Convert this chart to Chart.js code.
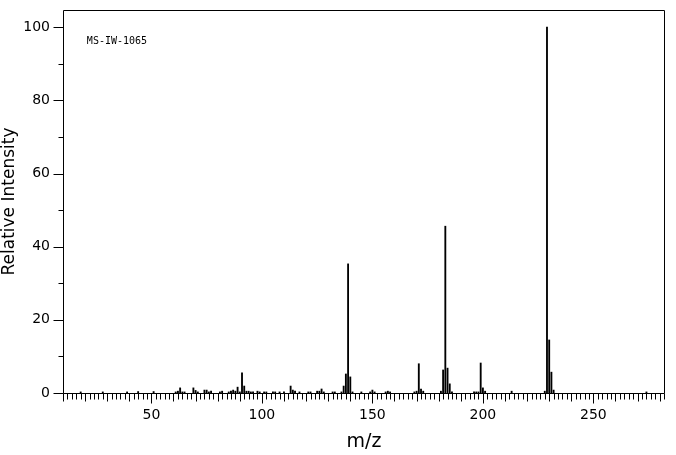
<!DOCTYPE html>
<html>
<head>
<meta charset="utf-8">
<script src="https://cdn.jsdelivr.net/npm/chart.js@4/dist/chart.umd.min.js"></script>
<style>
html,body{margin:0;padding:0;background:#fff;}
canvas{display:block;}
</style>
</head>
<body>
<canvas id="c" width="676" height="455"></canvas>
<script>
// m/z values of the peaks
const mzValues = [18, 28, 39, 44, 51,
  61, 62, 63, 64, 65, 69, 70, 71, 74, 75, 76, 77, 81, 82, 85, 86, 87, 88, 89, 90, 91, 92, 93, 94, 95, 96, 98, 99,
  101, 102, 105, 106, 108, 110, 113, 114, 115, 117, 121, 122, 125, 126, 127, 128, 132, 133, 136, 137, 138, 139, 140, 141, 145, 149,
  150, 151, 156, 157, 158, 169, 170, 171, 172, 173, 181, 182, 183, 184, 185, 186, 196, 197, 198, 199,
  200, 201, 213, 228, 229, 230, 231, 232, 274];
// relative intensities (%)
const intensities = [0.3, 0.3, 0.3, 0.4, 0.4,
  0.3, 0.5, 1.4, 0.3, 0.3, 1.4, 0.7, 0.3, 0.8, 0.8, 0.3, 0.5, 0.3, 0.5, 0.3, 0.5, 0.8, 0.5, 1.6, 0.3, 5.5, 1.9, 0.5, 0.5, 0.3, 0.3, 0.5, 0.3,
  0.3, 0.3, 0.3, 0.3, 0.3, 0.3, 1.9, 0.8, 0.5, 0.3, 0.3, 0.3, 0.5, 0.5, 1.1, 0.3, 0.3, 0.3, 0.3, 1.9, 5.2, 35.3, 4.4, 0.3, 0.3, 0.3,
  0.8, 0.3, 0.3, 0.5, 0.3, 0.3, 0.5, 8.0, 1.1, 0.5, 0.5, 6.3, 45.6, 6.8, 2.5, 0.3, 0.3, 0.3, 0.3, 8.2,
  1.4, 0.5, 0.5, 0.5, 100, 14.5, 5.7, 0.8, 0.3];
const xTickLabels = [50, 100, 150, 200, 250];
const yTickLabels = [0, 20, 40, 60, 80, 100];
const xMin = 10, xMax = 282.4, yMin = 0, yMax = 104.7;
const sampleId = 'MS-IW-1065';

const points = mzValues.map((m, i) => ({x: m, y: intensities[i]}));

const frameTicks = {
  id: 'frameTicks',
  afterDraw(chart) {
    const ctx = chart.ctx, a = chart.chartArea;
    const xs = chart.scales.x, ys = chart.scales.y;
    ctx.save();
    ctx.strokeStyle = '#000';
    ctx.lineWidth = 1;
    const L = Math.round(a.left) + 0.5, R = Math.round(a.right) - 0.5;
    const T = Math.round(a.top) + 0.5, B = Math.round(a.bottom) + 0.5;
    ctx.beginPath();
    ctx.rect(L, T, R - L, B - T);
    ctx.stroke();
    ctx.beginPath();
    for (let v = 10; v <= xMax; v += 2) {
      const px = Math.round(xs.getPixelForValue(v)) + 0.5;
      const len = v % 50 === 0 ? 10 : (v % 10 === 0 ? 8 : 6);
      ctx.moveTo(px, B);
      ctx.lineTo(px, B + len);
    }
    for (let v = 0; v <= 100; v += 10) {
      const py = Math.round(ys.getPixelForValue(v)) + 0.5;
      const len = v % 20 === 0 ? 10 : 5;
      ctx.moveTo(L, py);
      ctx.lineTo(L - len, py);
    }
    ctx.stroke();
    ctx.fillStyle = '#000';
    ctx.font = '10px "DejaVu Sans Mono"';
    ctx.textBaseline = 'middle';
    ctx.textAlign = 'left';
    ctx.fillText(sampleId, xs.getPixelForValue(20.8), ys.getPixelForValue(96.2));
    ctx.restore();
  }
};

new Chart(document.getElementById('c'), {
  type: 'bar',
  data: {
    datasets: [{
      data: points,
      backgroundColor: '#000',
      borderWidth: 0,
      barThickness: 1.2
    }]
  },
  options: {
    responsive: false,
    animation: false,
    devicePixelRatio: 1,
    layout: {padding: {left: 0, right: 11, top: 10, bottom: 0}},
    plugins: {legend: {display: false}, tooltip: {enabled: false}},
    scales: {
      x: {
        type: 'linear',
        min: xMin, max: xMax,
        offset: false,
        grid: {display: false, drawTicks: false},
        border: {display: false},
        afterBuildTicks: s => { s.ticks = xTickLabels.map(v => ({value: v})); },
        afterFit: s => { s.height = 62; s.paddingLeft = 0; s.paddingRight = 0; },
        ticks: {padding: 14, color: '#000', font: {family: 'DejaVu Sans', size: 14}, maxRotation: 0, autoSkip: false},
        title: {display: true, text: 'm/z', color: '#000', font: {family: 'DejaVu Sans', size: 19, lineHeight: 1}, padding: {top: 0, bottom: 3}}
      },
      y: {
        type: 'linear',
        min: yMin, max: yMax,
        grid: {display: false, drawTicks: false},
        border: {display: false},
        afterBuildTicks: s => { s.ticks = yTickLabels.map(v => ({value: v})); },
        afterFit: s => { s.width = 63; s.paddingTop = 0; s.paddingBottom = 0; },
        ticks: {padding: 13, color: '#000', font: {family: 'DejaVu Sans', size: 14}, autoSkip: false},
        title: {display: true, text: 'Relative Intensity', color: '#000', font: {family: 'DejaVu Sans', size: 17, lineHeight: 1}, padding: {top: 1, bottom: 0}}
      }
    }
  },
  plugins: [frameTicks]
});
</script>
</body>
</html>
